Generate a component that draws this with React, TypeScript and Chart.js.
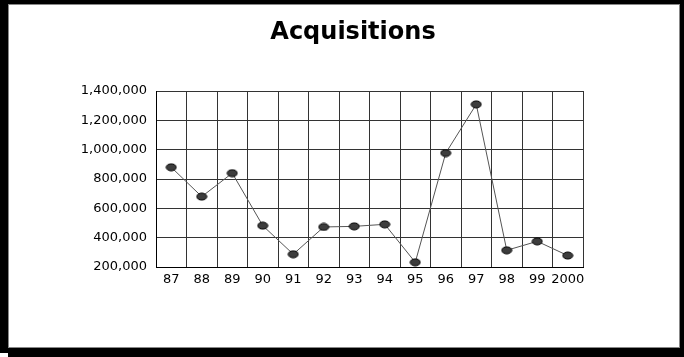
import React, { useEffect, useRef } from "react";
import { Chart, registerables } from "chart.js";

Chart.register(...registerables);

// Yearly acquisitions
const years = ["87", "88", "89", "90", "91", "92", "93", "94", "95", "96", "97", "98", "99", "2000"];
const acquisitions = [880000, 680000, 840000, 482000, 287000, 473000, 477000, 491000, 232000, 977000, 1309000, 314000, 375000, 278000];
const yTicks = [200000, 400000, 600000, 800000, 1000000, 1200000, 1400000];
const titleText = "Acquisitions";

const W = 684;
const H = 357;

function makeMarker(): HTMLCanvasElement {
  const c = document.createElement("canvas");
  c.width = 12;
  c.height = 9;
  const ctx = c.getContext("2d")!;
  ctx.beginPath();
  ctx.ellipse(6, 4.5, 5, 3.5, 0, 0, Math.PI * 2);
  ctx.fillStyle = "#3d3d3d";
  ctx.fill();
  ctx.lineWidth = 1;
  ctx.strokeStyle = "#000";
  ctx.stroke();
  return c;
}

const titlePlugin = {
  id: "heading",
  afterDraw(chart: any) {
    const ctx = chart.ctx;
    ctx.save();
    ctx.font = "bold 24px 'DejaVu Sans'";
    ctx.fillStyle = "#000";
    ctx.textAlign = "center";
    ctx.textBaseline = "middle";
    ctx.fillText(titleText, 353, 33);
    ctx.restore();
  },
};

export default function App() {
  const ref = useRef<HTMLCanvasElement>(null);

  useEffect(() => {
    if (!ref.current) return;
    const marker = makeMarker();
    const chart = new Chart(ref.current, {
      type: "line",
      data: {
        labels: years,
        datasets: [
          {
            data: acquisitions,
            borderColor: "#555",
            borderWidth: 1,
            pointStyle: marker as any,
            pointRadius: 5,
            fill: false,
            tension: 0,
          },
        ],
      },
      options: {
        responsive: false,
        animation: false,
        layout: { padding: { top: 91, right: 101, bottom: 0, left: 0 } },
        plugins: {
          legend: { display: false },
          tooltip: { enabled: false },
        },
        scales: {
          x: {
            offset: true,
            grid: { offset: true, color: "#333", lineWidth: 1, drawTicks: false },
            border: { color: "#000", width: 1 },
            ticks: {
              color: "#000",
              padding: 5,
              maxRotation: 0,
              autoSkip: false,
              font: { family: "'DejaVu Sans'", size: 13 },
            },
            afterFit(scale: any) {
              scale.height = 90;
            },
          },
          y: {
            min: yTicks[0],
            max: yTicks[yTicks.length - 1],
            afterBuildTicks(scale: any) {
              scale.ticks = yTicks.map((v) => ({ value: v }));
            },
            grid: { color: "#333", lineWidth: 1, drawTicks: false },
            border: { color: "#000", width: 1 },
            ticks: {
              color: "#000",
              padding: 9,
              font: { family: "'DejaVu Sans'", size: 13 },
              callback: (v: any) => Number(v).toLocaleString("en-US"),
            },
            afterFit(scale: any) {
              scale.width = 156;
            },
          },
        },
      },
      plugins: [titlePlugin],
    });
    return () => chart.destroy();
  }, []);

  return (
    <div style={{ position: "absolute", left: 0, top: 0, width: W, height: H, background: "#000", overflow: "hidden" }}>
      <div
        style={{
          position: "absolute",
          left: 8,
          top: 4,
          width: 672,
          height: 344,
          background: "#fff",
          border: "1px solid #888",
          boxSizing: "border-box",
        }}
      />
      <div style={{ position: "absolute", left: 0, top: 353, width: 8, height: 4, background: "#fff" }} />
      <canvas ref={ref} width={W} height={H} style={{ position: "absolute", left: 0, top: 0, width: W, height: H }} />
    </div>
  );
}
